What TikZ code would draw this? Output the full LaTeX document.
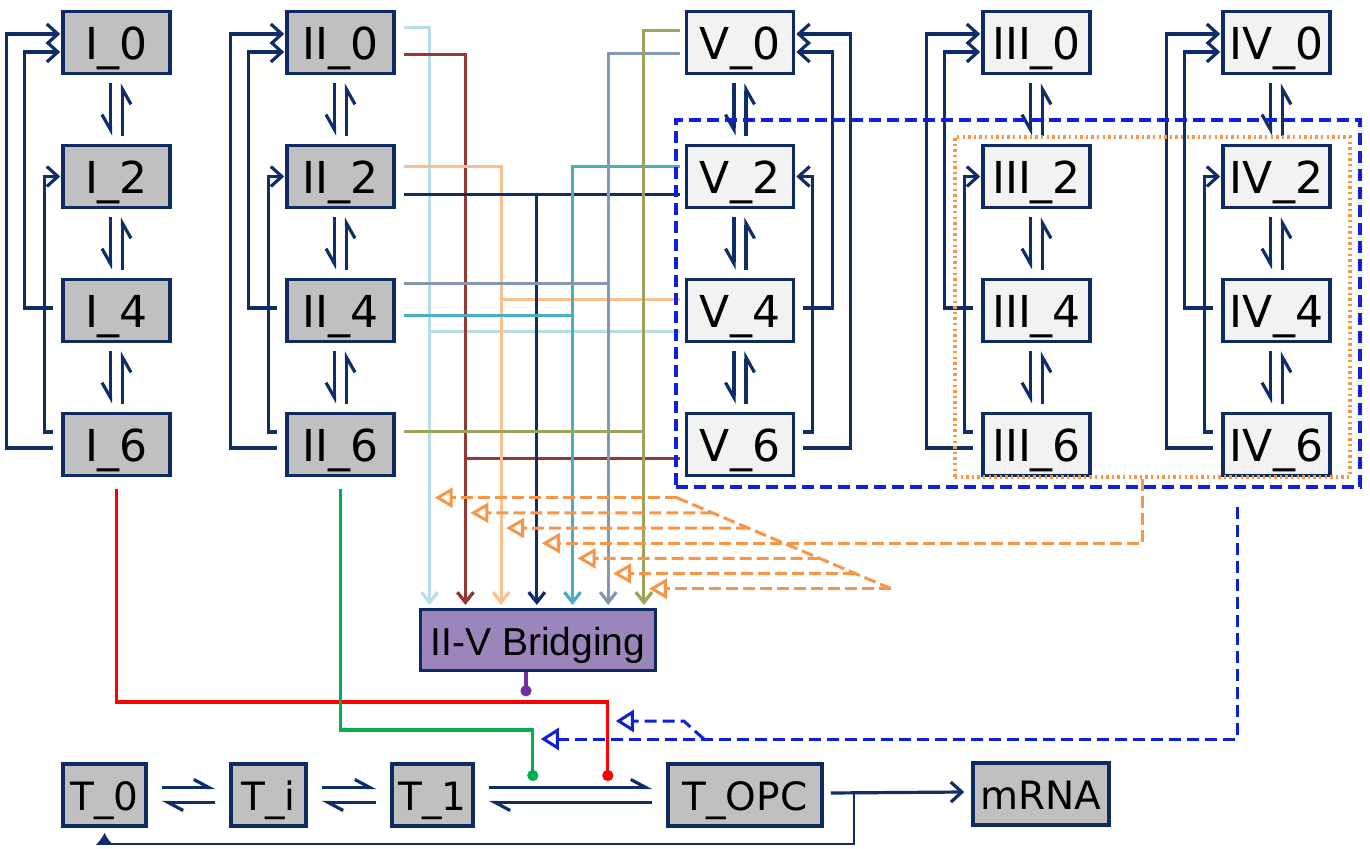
\documentclass[tikz,border=0pt]{standalone}
\usepackage{fontspec}
\setmainfont{DejaVu Sans}
\newfontfamily\bridgefont{Liberation Sans}
\usetikzlibrary{arrows.meta,calc}

\definecolor{boxline}{HTML}{0E2A63}
\definecolor{navyline}{HTML}{0F2D69}
\definecolor{grayfill}{HTML}{C0C0C0}
\definecolor{lightfill}{HTML}{F2F2F2}
\definecolor{bridgefill}{HTML}{9B85BA}
\definecolor{cLightblue}{HTML}{B7DEE8}
\definecolor{cBrown}{HTML}{953735}
\definecolor{cPeach}{HTML}{FAC090}
\definecolor{cNavy}{HTML}{0F2D69}
\definecolor{cTeal}{HTML}{4BACC6}
\definecolor{cSlate}{HTML}{8497B0}
\definecolor{cOlive}{HTML}{9DA35C}
\definecolor{orangeline}{HTML}{F79646}
\definecolor{blueline}{HTML}{1020D8}
\definecolor{redline}{HTML}{FF0000}
\definecolor{greenline}{HTML}{00B050}
\definecolor{purpleline}{HTML}{7030A0}

\tikzset{
  state/.style={draw=boxline, line width=1.8pt, inner sep=0pt, minimum width=53.5pt, minimum height=31pt,
    text height=17pt, text depth=0pt, font=\fontsize{22}{24}\selectfont},
  tstate/.style={draw=boxline, line width=1.8pt, inner sep=0pt, fill=grayfill, minimum height=31pt,
    text height=15pt, text depth=0pt, font=\fontsize{19.5}{22}\selectfont},
  cyc/.style={draw=navyline, line width=1.6pt, -{Straight Barb[length=5.5pt,width=10pt]}},
  revv/.style={draw=navyline, line width=1.6pt, shorten <=4pt, shorten >=4pt,
    -{Straight Barb[harpoon,swap,length=7.5pt,width=8.5pt]}},
  revh/.style={draw=navyline, line width=1.6pt, shorten <=7pt, shorten >=7pt,
    -{Straight Barb[harpoon,length=7.5pt,width=8pt]}},
  feed/.style={draw=#1, line width=1.5pt, shorten >=1.5pt, -{Straight Barb[length=5pt,width=8pt]}},
  oinh/.style={draw=orangeline, line width=1.5pt, dash pattern=on 6pt off 2.5pt,
    -{Triangle[open,length=9pt,width=10pt]}},
  binh/.style={draw=blueline, line width=1.5pt, dash pattern=on 6pt off 3pt,
    -{Triangle[open,length=9pt,width=11pt]}},
  dot/.style={line width=1.6pt, -{Circle[length=5.5pt]}}
}

\begin{document}
\begin{tikzpicture}[x=0.5pt, y=-0.5pt]
  \useasboundingbox (0,0) rectangle (1370,849);

  % conformation states
  \foreach \col/\cx/\shade in {I/116.5/grayfill, II/340.5/grayfill, V/740/lightfill, III/1036.5/lightfill, IV/1276.5/lightfill} {
      \foreach \n/\cy in {0/42.5, 2/176.5, 4/310.5, 6/444.5} {
          \node[state, fill=\shade] (\col\n) at (\cx,\cy) {\col\_\n};
        }
    }

  % reversible steps and return loops
  \foreach \col in {I, II, V, III, IV} {
      \foreach \a/\b in {0/2, 2/4, 4/6} {
          \draw[revv] ([xshift=-3pt]\col\a.south) -- ([xshift=-3pt]\col\b.north);
          \draw[revv] ([xshift=3pt]\col\b.north) -- ([xshift=3pt]\col\a.south);
        }
    }
  \foreach \col/\sd/\dr in {I/west/-1, II/west/-1, III/west/-1, IV/west/-1, V/east/1} {
      \draw[cyc] ([xshift=\dr*4pt, yshift=-1.75pt]\col6.\sd) -- ++({\dr*47},0)
        |- ([xshift=\dr*0.5pt, yshift=4.25pt]\col0.\sd);
      \draw[cyc] ([xshift=\dr*4pt, yshift=1.25pt]\col4.\sd) -- ++({\dr*29},0)
        |- ([xshift=\dr*0.5pt, yshift=-4.75pt]\col0.\sd);
      \draw[cyc] ([xshift=\dr*4pt, yshift=6.25pt]\col6.\sd) -- ++({\dr*9},0)
        |- ([xshift=\dr*0.5pt]\col2.\sd);
    }

  % bridging
  \node[draw=boxline, line width=1.8pt, fill=bridgefill, inner sep=0pt, minimum width=117.5pt, minimum height=30.5pt,
    text height=15pt, text depth=0pt, font=\bridgefont\fontsize{19.5}{22}\selectfont] (bridge) at (538,640) {II-V Bridging};
  \foreach \k in {1,...,7} {
      \coordinate (in\k) at ([xshift={5.5pt+(\k-1)*17.85pt}]bridge.north west);
      \coordinate (t\k) at ([xshift=2.5pt, yshift={55pt-(\k-1)*7.58pt}]in\k);
    }
  \foreach \k/\clr/\na/\ya/\nb/\yb in {1/cLightblue/II0/7.25/V4/-10.75, 2/cBrown/II0/-6.25/V6/-7.25,
      3/cPeach/II2/4.75/V4/5.25, 4/cNavy/II2/-9.25/V2/-9.25, 5/cTeal/II4/-2.75/V2/4.75,
      6/cSlate/II4/13.25/V0/-5.75, 7/cOlive/II6/6.25/V0/5.75} {
      \draw[feed=\clr] ([xshift=4pt, yshift=\ya pt]\na.east) -| (in\k);
      \draw[feed=\clr] ([xshift=-2.5pt, yshift=\yb pt]\nb.west) -| (in\k);
    }

  % transcription
  \node[tstate, minimum width=41.5pt] (T0) at (104.5,795) {T\_0};
  \node[tstate, minimum width=37.5pt] (Ti) at (268.5,795) {T\_i};
  \node[tstate, minimum width=40.5pt] (T1) at (432.5,795) {T\_1};
  \node[tstate, minimum width=77pt] (TOPC) at (745,795) {T\_OPC};
  \node[tstate, minimum width=68pt] (mRNA) at (1041,794) {mRNA};
  \foreach \p/\q in {T0/Ti, Ti/T1, T1/TOPC} {
      \draw[revh] ([yshift=3.75pt]\p.east) -- ([yshift=3.75pt]\q.west);
      \draw[revh] ([yshift=-3.75pt]\q.west) -- ([yshift=-3.75pt]\p.east);
    }
  \draw[cyc] ([xshift=3.5pt, yshift=1pt]TOPC.east) -- ([xshift=-3.5pt, yshift=1pt]mRNA.west);
  \draw[navyline, line width=1.2pt, shorten >=2.5pt, -{Latex[length=6pt,width=9pt]}]
    ([xshift=15pt, yshift=1pt]TOPC.east) -- ++(0,51) -| (T0.south);

  % activators
  \coordinate (gdot) at ([xshift=29pt, yshift=7pt]T1.east);
  \coordinate (rdot) at ([xshift=66.5pt, yshift=7pt]T1.east);
  \coordinate (pdot) at ([xshift=-6pt, yshift=-12pt]bridge.south);
  \draw[dot, redline] ([yshift=-6pt]I6.south) |- ([yshift=39.5pt]rdot) -- (rdot);
  \draw[dot, greenline] ([yshift=-6pt]II6.south) |- ([yshift=25.5pt]gdot) -- (gdot);
  \draw[dot, purpleline] ([xshift=-6pt]bridge.south) -- (pdot);

  % groups
  \node[draw=blueline, line width=1.6pt, dash pattern=on 6pt off 3pt, inner sep=0pt,
    minimum width=342pt, minimum height=183.5pt] (bgrp) at (1018,303.5) {};
  \node[draw=orangeline, line width=1.6pt, dash pattern=on 1.2pt off 1.6pt, inner sep=0pt,
    minimum width=197.5pt, minimum height=170pt] (ogrp) at (1152.5,307) {};

  % inhibition by III/IV
  \coordinate (od1) at ([xshift=121pt]t1);
  \coordinate (od7) at ([xshift=121pt]t7);
  \draw[oinh, -] (od1) -- (od7);
  \foreach \k in {1,2,3,5,6,7} {
      \draw[oinh] ($(od1)!{(\k-1)/6}!(od7)$) -- (t\k);
    }
  \draw[oinh] ([xshift=-5.25pt]ogrp.south) |- (t4);

  % inhibition by V/III/IV
  \coordinate (bt1) at ([xshift=4pt, yshift=21pt]gdot);
  \coordinate (bt2) at ([xshift=4pt, yshift=30pt]rdot);
  \coordinate (bsplit) at ([xshift=81.5pt]bt1);
  \draw[binh] ([xshift=109.5pt, yshift=-9pt]bgrp.south) |- (bt1);
  \draw[binh] (bsplit) -- ++(-20,-18) -- (bt2);
\end{tikzpicture}
\end{document}
